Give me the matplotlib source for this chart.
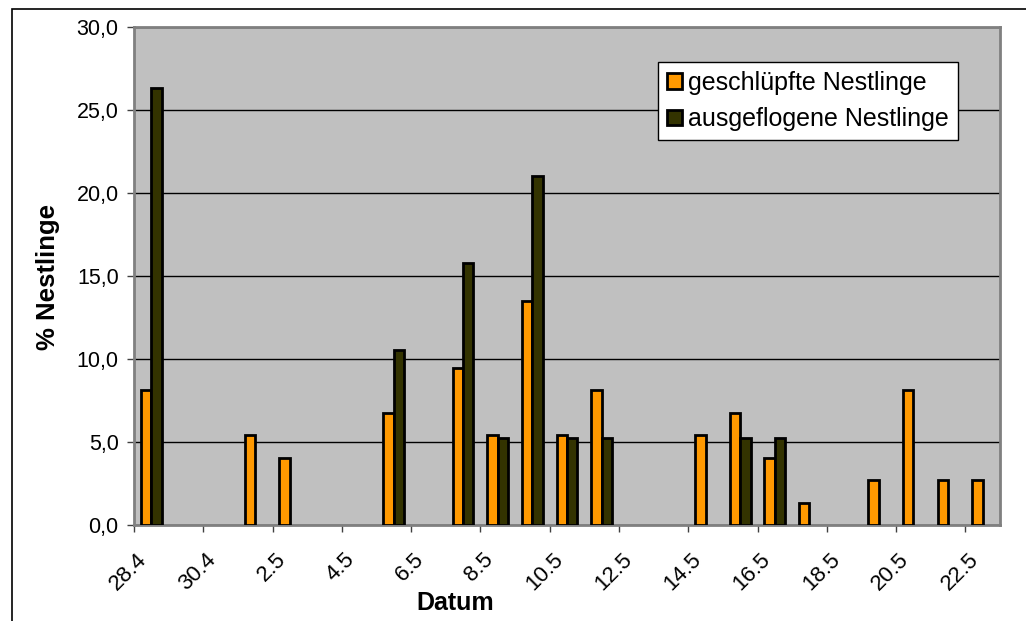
"""
Nestlinge: geschluepfte und ausgeflogene Nestlinge pro Datum.
"""

import numpy as np
import matplotlib.pyplot as plt
from matplotlib.patches import Rectangle

# categories (daily, 28.4 .. 22.5)
dates = ["28.4", "29.4", "30.4", "1.5", "2.5", "3.5", "4.5", "5.5", "6.5",
         "7.5", "8.5", "9.5", "10.5", "11.5", "12.5", "13.5", "14.5", "15.5",
         "16.5", "17.5", "18.5", "19.5", "20.5", "21.5", "22.5"]

# % Nestlinge
geschluepft = [8.11, 0, 0, 5.41, 4.05, 0, 0, 6.76, 0, 9.46, 5.41, 13.51,
               5.41, 8.11, 0, 0, 5.41, 6.76, 4.05, 1.35, 0, 2.70, 8.11,
               2.70, 2.70]
ausgeflogen = [26.32, 0, 0, 0, 0, 0, 0, 10.53, 0, 15.79, 5.26, 21.05,
               5.26, 5.26, 0, 0, 0, 5.26, 5.26, 0, 0, 0, 0, 0, 0]

W, H = 1026, 621
plt.rcParams['font.family'] = ['Liberation Sans', 'DejaVu Sans']

fig = plt.figure(figsize=(W / 100, H / 100), dpi=100)
ax = fig.add_axes([134 / W, 1 - 525 / H, 866 / W, 498 / H])

# outer chart border
fig.patches.append(Rectangle((12 / W, -0.1), 1.2, 1.1 - 9 / H,
                             transform=fig.transFigure, fill=False,
                             edgecolor='black', linewidth=1.2))

x = np.arange(len(dates))
bw = 0.3
g = np.array(geschluepft)
a = np.array(ausgeflogen)
mg = g > 0
ma = a > 0
ax.bar(x[mg] - bw / 2, g[mg], width=bw, color='#FF9900',
       edgecolor='black', linewidth=2.0, label='geschlüpfte Nestlinge',
       zorder=3)
ax.bar(x[ma] + bw / 2, a[ma], width=bw, color='#333300',
       edgecolor='black', linewidth=2.0, label='ausgeflogene Nestlinge',
       zorder=3)

ax.set_facecolor('#C0C0C0')
ax.set_xlim(-0.5, len(dates) - 0.5)
ax.set_ylim(0, 30)
ax.set_yticks(np.arange(0, 31, 5))
ax.set_yticklabels([('%.1f' % v).replace('.', ',') for v in np.arange(0, 31, 5)],
                   fontsize=15.5)
ax.yaxis.grid(True, color='black', linewidth=1.0, zorder=1)
ax.set_axisbelow(True)

ax.set_xticks(x[::2])
ax.set_xticklabels(dates[::2], rotation=45, ha='right', va='top',
                   fontsize=16)
ax.set_xticks(np.arange(-0.5, len(dates) - 1, 2), minor=True)
ax.tick_params(axis='x', which='major', length=0, pad=17)
ax.tick_params(axis='x', which='minor', length=5, width=1, color='#404040')
ax.tick_params(axis='y', length=5, width=1, color='#404040', pad=6)

for s in ax.spines.values():
    s.set_color('#808080')
    s.set_linewidth(2)

leg = ax.legend(loc='upper left', bbox_to_anchor=(658 / W, 1 - 62 / H),
                bbox_transform=fig.transFigure, fontsize=18, frameon=True,
                fancybox=False, edgecolor='black', framealpha=1,
                handlelength=0.6, handleheight=0.6, handletextpad=0.25,
                borderpad=0.35, labelspacing=0.5, borderaxespad=0)
leg.get_frame().set_linewidth(1.0)

fig.text(48 / W, 1 - 277 / H, '% Nestlinge', rotation=90, ha='center',
         va='center', fontsize=18.5, fontweight='bold')
fig.text(455 / W, 1 - 603 / H, 'Datum', ha='center', va='center',
         fontsize=18, fontweight='bold')

fig.savefig('out.png', dpi=100)
